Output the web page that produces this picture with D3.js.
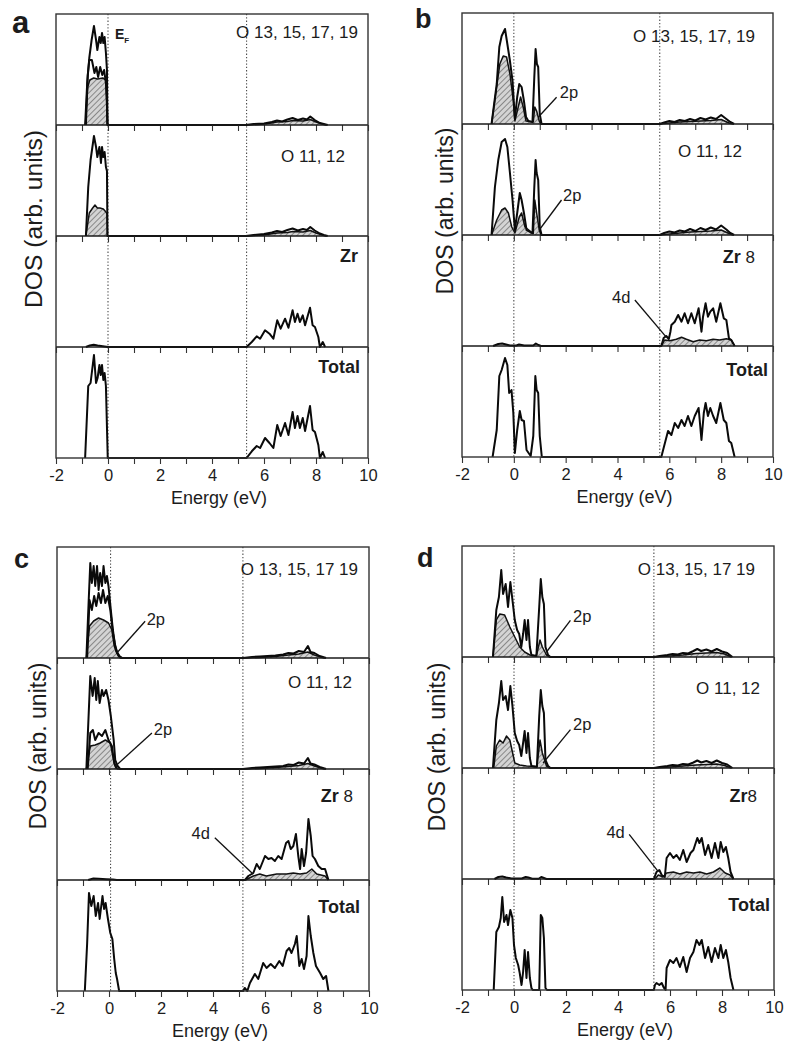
<!DOCTYPE html>
<html>
<head>
<meta charset="utf-8">
<script src="https://cdn.jsdelivr.net/npm/d3@7"></script>
<style>
  body { margin: 0; background: #fff; }
  svg { display: block; }
  text { font-family: "Liberation Sans", Arial, Helvetica, sans-serif; fill: #1c1c1c; }
</style>
</head>
<body>
<svg id="fig" width="785" height="1050"></svg>
<script>
// ---------- axis values ----------
const energyDomain = [-2, 10];
const energyTicks = [-2, -1, 0, 1, 2, 3, 4, 5, 6, 7, 8, 9, 10];
const majorTicks = [-2, 0, 2, 4, 6, 8, 10];
const tickLabels = ["-2", "0", "2", "4", "6", "8", "10"];
const dosMax = 11.1;

// ---------- panel a : DOS curves [energy (eV), DOS (arb. units)] ----------
const aO1Total = [[-0.88,0],[-0.80,4.2],[-0.72,6.7],[-0.63,8.5],[-0.54,9.9],[-0.46,8.5],[-0.41,7.5],[-0.33,8.8],[-0.28,8.2],[-0.23,9.2],[-0.18,8.2],[-0.13,8.8],[-0.08,7.2],[-0.04,5.5],[-0.02,0],
  [5.30,0],[5.6,0.1],[6.0,0.15],[6.3,0.3],[6.5,0.45],[6.7,0.35],[6.9,0.55],[7.1,0.7],[7.3,0.5],[7.5,0.65],[7.65,0.55],[7.78,0.85],[7.95,0.5],[8.15,0.2],[8.3,0.1],[8.45,0]];
const aO1Mid = [[-0.85,0],[-0.78,5.0],[-0.72,6.5],[-0.62,6.5],[-0.52,5.2],[-0.45,5.8],[-0.38,4.8],[-0.30,5.8],[-0.22,5.0],[-0.15,5.5],[-0.08,4.2],[-0.04,2.0],[-0.02,0]];
const aO1P = [[-0.87,0],[-0.78,3.8],[-0.70,4.5],[-0.55,4.7],[-0.40,4.6],[-0.20,4.7],[-0.08,4.5],[-0.04,2.0],[-0.02,0],
  [5.3,0],[5.8,0.05],[6.3,0.2],[6.5,0.3],[6.9,0.35],[7.1,0.45],[7.5,0.4],[7.78,0.55],[8.0,0.3],[8.3,0.05],[8.4,0]];
const aO2Total = [[-0.85,0],[-0.76,4.9],[-0.67,7.6],[-0.54,10.0],[-0.46,8.9],[-0.41,7.9],[-0.33,8.9],[-0.27,7.3],[-0.23,8.9],[-0.18,7.9],[-0.13,8.4],[-0.08,6.9],[-0.04,6.5],[-0.02,0],
  [5.3,0],[5.6,0.1],[6.0,0.2],[6.3,0.35],[6.5,0.5],[6.7,0.4],[6.9,0.6],[7.1,0.75],[7.3,0.55],[7.5,0.7],[7.65,0.6],[7.78,0.9],[7.95,0.55],[8.15,0.25],[8.3,0.1],[8.45,0]];
const aO2P = [[-0.85,0],[-0.72,2.3],[-0.59,2.8],[-0.50,3.1],[-0.41,2.8],[-0.31,2.8],[-0.18,2.7],[-0.08,2.4],[-0.04,2.2],[-0.02,0],
  [5.3,0],[6.0,0.1],[6.5,0.3],[6.9,0.35],[7.1,0.45],[7.5,0.4],[7.78,0.55],[8.0,0.3],[8.3,0.05],[8.4,0]];
const aZr = [[-0.85,0],[-0.7,0.15],[-0.55,0.22],[-0.4,0.15],[-0.2,0.08],[0.0,0],
  [5.33,0],[5.53,0.5],[5.72,1.07],[5.85,0.83],[6.04,1.67],[6.21,1.33],[6.36,0.83],[6.51,2.67],[6.64,1.83],[6.81,2.83],[6.94,1.93],[7.10,3.67],[7.19,2.5],[7.29,3.33],[7.38,2.5],[7.49,3.17],[7.58,2.17],[7.77,3.93],[7.87,2.17],[7.96,2.0],[8.09,1.0],[8.15,0],[8.26,0.5],[8.35,0]];
const aTotal = [[-0.88,0],[-0.76,7.2],[-0.67,7.5],[-0.54,10.3],[-0.46,7.5],[-0.40,8.0],[-0.33,9.3],[-0.28,8.3],[-0.23,9.3],[-0.18,7.8],[-0.13,8.5],[-0.08,7.2],[-0.01,0],
  [5.33,0],[5.53,0.67],[5.72,1.2],[5.85,1.0],[6.04,2.0],[6.21,1.5],[6.36,1.0],[6.51,3.3],[6.64,2.2],[6.81,3.5],[6.94,2.3],[7.10,4.6],[7.19,3.0],[7.29,4.2],[7.38,3.0],[7.49,4.0],[7.58,2.7],[7.77,5.2],[7.87,2.8],[7.96,2.6],[8.09,1.3],[8.15,0],[8.26,0.6],[8.35,0]];

// ---------- panel b ----------
const bO1Total = [[-0.86,0],[-0.66,4.0],[-0.56,7.7],[-0.47,8.8],[-0.34,9.5],[-0.25,8.0],[-0.15,6.3],[-0.05,4.3],[0.04,0.5],[0.13,2.7],[0.21,4.0],[0.30,3.7],[0.39,2.3],[0.47,0.7],[0.56,0.3],[0.72,0.2],[0.79,4.7],[0.84,7.5],[0.89,6.0],[0.94,5.7],[1.00,1.0],[1.07,0],
  [5.63,0],[5.8,0.15],[6.0,0.3],[6.2,0.2],[6.4,0.4],[6.6,0.3],[6.8,0.5],[7.0,0.35],[7.2,0.6],[7.4,0.45],[7.6,0.65],[7.8,0.5],[8.0,0.9],[8.2,0.5],[8.35,0.2],[8.5,0]];
const bO1P = [[-0.86,0],[-0.70,3.0],[-0.54,6.0],[-0.41,6.8],[-0.28,6.7],[-0.15,5.0],[-0.02,2.3],[0.04,0.3],[0.17,1.7],[0.26,2.7],[0.36,1.7],[0.47,0.3],[0.75,0.2],[0.81,1.7],[0.88,1.3],[0.98,0.3],[1.05,0],
  [5.63,0],[6.0,0.1],[6.4,0.2],[6.8,0.25],[7.2,0.3],[7.6,0.35],[8.0,0.45],[8.3,0.1],[8.45,0]];
const bO2Total = [[-0.86,0],[-0.73,4.8],[-0.60,7.5],[-0.47,9.3],[-0.34,9.6],[-0.25,8.8],[-0.15,6.2],[-0.05,3.5],[0.04,0.5],[0.13,2.2],[0.23,4.2],[0.30,3.5],[0.39,2.2],[0.49,0.5],[0.72,0.17],[0.79,4.8],[0.84,7.5],[0.88,6.2],[0.94,5.5],[1.00,0.8],[1.07,0],
  [5.63,0],[5.8,0.2],[6.0,0.35],[6.2,0.25],[6.4,0.45],[6.6,0.35],[6.8,0.6],[7.0,0.4],[7.2,0.7],[7.4,0.5],[7.6,0.75],[7.8,0.55],[8.0,0.95],[8.2,0.55],[8.35,0.2],[8.5,0]];
const bO2P = [[-0.86,0],[-0.66,1.5],[-0.47,2.5],[-0.34,2.7],[-0.21,2.2],[-0.08,0.8],[0.04,0.2],[0.21,1.8],[0.30,2.2],[0.43,0.8],[0.75,0.15],[0.81,3.5],[0.88,2.2],[0.98,0.5],[1.05,0],
  [5.63,0],[6.0,0.1],[6.4,0.2],[6.8,0.3],[7.2,0.35],[7.6,0.4],[8.0,0.5],[8.3,0.15],[8.45,0]];
const bZr = [[-0.8,0],[-0.6,0.2],[-0.45,0.25],[-0.3,0.15],[-0.15,0.05],[0.1,0.05],[0.2,0.15],[0.3,0.1],[0.4,0.05],[0.75,0.05],[0.85,0.25],[0.95,0.1],[1.05,0],
  [5.69,0],[5.78,0.8],[5.88,1.0],[5.98,0.7],[6.04,1.4],[6.08,2.1],[6.21,2.43],[6.34,3.1],[6.47,2.43],[6.59,3.27],[6.72,2.27],[6.85,3.27],[6.98,2.27],[7.13,3.77],[7.24,1.43],[7.30,2.93],[7.40,4.27],[7.49,2.93],[7.58,3.43],[7.69,3.77],[7.81,2.43],[7.97,4.27],[8.10,2.77],[8.20,2.6],[8.30,0.77],[8.39,0.6],[8.52,0]];
const bZrD = [[5.69,0],[5.82,0.6],[6.02,0.53],[6.27,0.67],[6.47,0.87],[6.66,0.67],[6.92,0.43],[7.17,0.6],[7.43,0.53],[7.69,0.67],[7.94,0.6],[8.2,0.73],[8.39,0.6],[8.52,0]];
const bTotal = [[-0.82,0],[-0.66,2.7],[-0.56,8.1],[-0.47,8.7],[-0.34,9.9],[-0.25,9.2],[-0.18,6.4],[-0.09,6.7],[-0.02,4.4],[0.04,0.4],[0.13,2.7],[0.23,4.6],[0.30,3.7],[0.39,3.6],[0.49,0.7],[0.65,0.1],[0.75,2.1],[0.83,8.1],[0.88,6.7],[0.94,6.4],[1.00,2.1],[1.08,0],
  [5.69,0],[5.76,0.7],[5.95,2.6],[6.08,2.2],[6.21,3.4],[6.34,2.9],[6.47,3.7],[6.59,3.1],[6.72,4.1],[6.85,3.1],[6.98,4.1],[7.13,4.9],[7.24,1.7],[7.33,4.4],[7.40,5.4],[7.49,4.1],[7.58,4.9],[7.69,4.1],[7.81,3.4],[7.97,5.4],[8.10,3.7],[8.20,3.4],[8.30,1.6],[8.39,1.4],[8.52,0]];

// ---------- panel c ----------
const cO1Total = [[-0.87,0],[-0.78,5.8],[-0.72,9.5],[-0.66,7.5],[-0.59,9.2],[-0.53,7.2],[-0.46,9.2],[-0.40,6.8],[-0.34,8.5],[-0.27,7.2],[-0.21,9.2],[-0.14,7.5],[-0.08,8.2],[-0.02,7.2],[0.07,4.8],[0.15,2.8],[0.22,1.5],[0.28,0.7],[0.37,0.2],[0.50,0],
  [5.15,0],[5.5,0.1],[5.8,0.15],[6.1,0.2],[6.4,0.25],[6.7,0.35],[6.9,0.5],[7.1,0.45],[7.3,0.7],[7.5,0.6],[7.65,1.2],[7.75,0.6],[7.9,0.5],[8.1,0.2],[8.35,0]];
const cO1Mid = [[-0.84,0],[-0.75,5.8],[-0.66,4.8],[-0.57,6.2],[-0.49,5.2],[-0.40,6.5],[-0.31,5.5],[-0.23,6.8],[-0.14,5.5],[-0.05,6.2],[0.05,4.8],[0.15,2.5],[0.24,1.2],[0.33,0.5],[0.43,0.1],[0.50,0]];
const cO1P = [[-0.87,0],[-0.75,3.2],[-0.59,3.7],[-0.40,4.0],[-0.21,3.8],[-0.02,3.5],[0.11,2.8],[0.20,1.2],[0.30,0.5],[0.43,0],
  [5.15,0],[5.8,0.05],[6.4,0.15],[6.9,0.3],[7.3,0.4],[7.65,0.6],[7.9,0.3],[8.2,0.05],[8.3,0]];
const cO2Total = [[-0.87,0],[-0.78,5.6],[-0.72,9.3],[-0.63,7.3],[-0.55,9.1],[-0.49,6.9],[-0.43,8.8],[-0.36,6.6],[-0.27,7.9],[-0.21,7.3],[-0.11,7.9],[-0.02,6.9],[0.07,5.3],[0.18,2.9],[0.24,0.9],[0.33,0.3],[0.43,0],
  [5.15,0],[5.5,0.1],[5.8,0.15],[6.1,0.2],[6.4,0.25],[6.7,0.3],[6.9,0.45],[7.1,0.4],[7.3,0.65],[7.5,0.55],[7.65,1.1],[7.75,0.55],[7.9,0.45],[8.1,0.2],[8.35,0]];
const cO2Mid = [[-0.82,0],[-0.72,3.6],[-0.62,3.9],[-0.53,2.9],[-0.40,3.6],[-0.27,3.3],[-0.14,3.9],[-0.02,2.9],[0.11,2.3],[0.20,0.6],[0.30,0]];
const cO2P = [[-0.87,0],[-0.72,2.3],[-0.53,2.4],[-0.34,2.6],[-0.14,2.9],[0.05,2.6],[0.15,1.3],[0.24,0.3],[0.33,0],
  [5.15,0],[5.8,0.05],[6.4,0.15],[6.9,0.25],[7.3,0.35],[7.65,0.55],[7.9,0.3],[8.2,0.05],[8.3,0]];
const cZr = [[-0.8,0],[-0.6,0.15],[-0.4,0.12],[-0.1,0.08],[0.15,0.05],[0.3,0],
  [5.23,0],[5.36,0.4],[5.55,0.7],[5.68,1.6],[5.80,1.1],[6.00,2.4],[6.13,2.1],[6.25,2.2],[6.38,1.9],[6.51,2.4],[6.64,2.1],[6.81,3.7],[6.90,3.9],[6.99,3.1],[7.09,3.4],[7.19,4.6],[7.28,2.4],[7.35,1.1],[7.41,3.1],[7.50,1.4],[7.58,2.7],[7.67,6.1],[7.76,4.4],[7.83,2.4],[7.92,2.1],[8.05,1.4],[8.18,1.1],[8.31,1.1],[8.44,0]];
const cZrD = [[5.25,0],[5.55,0.4],[5.80,0.6],[6.05,0.4],[6.45,0.6],[6.83,0.6],[7.09,0.7],[7.35,0.6],[7.60,0.7],[7.80,1.1],[7.99,0.6],[8.31,0.4],[8.44,0]];
const cTotal = [[-0.93,0],[-0.84,4.8],[-0.77,9.8],[-0.68,8.5],[-0.59,9.5],[-0.51,7.5],[-0.42,8.8],[-0.36,7.2],[-0.25,9.5],[-0.19,8.2],[-0.13,8.8],[-0.04,7.2],[0.05,5.8],[0.13,5.2],[0.20,3.2],[0.26,1.8],[0.31,1.2],[0.39,0],
  [5.16,0],[5.22,0.3],[5.32,0],[5.42,0.8],[5.61,1.7],[5.74,1.2],[5.93,2.8],[6.06,2.3],[6.22,2.7],[6.38,2.3],[6.55,3.0],[6.68,2.5],[6.83,4.0],[6.93,4.3],[7.02,3.8],[7.15,4.7],[7.22,5.5],[7.32,2.5],[7.41,3.2],[7.50,2.2],[7.60,3.5],[7.67,7.5],[7.76,5.5],[7.86,3.8],[7.96,2.5],[8.12,1.8],[8.24,1.2],[8.35,1.5],[8.44,0]];

// ---------- panel d ----------
const dO1Total = [[-0.81,0],[-0.68,4.7],[-0.58,6.0],[-0.49,8.7],[-0.42,6.3],[-0.32,7.3],[-0.23,5.0],[-0.14,7.5],[-0.06,5.7],[0.03,3.7],[0.12,2.7],[0.20,2.3],[0.28,1.0],[0.35,2.3],[0.41,3.7],[0.48,1.7],[0.54,3.7],[0.61,1.0],[0.67,0.2],[0.86,0.1],[0.97,5.0],[1.03,7.8],[1.09,6.0],[1.15,5.3],[1.21,1.0],[1.31,0.2],[1.40,0],
  [5.38,0],[5.6,0.1],[5.9,0.2],[6.1,0.3],[6.3,0.25],[6.5,0.4],[6.7,0.35],[6.9,0.6],[7.05,0.8],[7.2,0.6],[7.4,0.75],[7.6,0.55],[7.8,0.8],[8.0,0.55],[8.2,0.4],[8.4,0]];
const dO1P = [[-0.81,0],[-0.68,3.7],[-0.55,4.3],[-0.36,4.2],[-0.16,3.0],[0.03,2.0],[0.22,1.0],[0.41,0.5],[0.61,0.2],[0.86,0.1],[1.00,1.7],[1.09,1.0],[1.25,0.2],[1.37,0],
  [5.38,0],[6.0,0.1],[6.5,0.2],[7.0,0.35],[7.4,0.4],[7.8,0.45],[8.1,0.3],[8.35,0]];
const dO2Total = [[-0.81,0],[-0.68,4.8],[-0.58,6.5],[-0.49,8.7],[-0.42,6.8],[-0.32,7.2],[-0.23,5.8],[-0.14,8.2],[-0.06,6.2],[0.03,3.5],[0.12,2.7],[0.20,2.3],[0.28,1.2],[0.35,2.5],[0.41,3.7],[0.48,1.5],[0.54,3.5],[0.61,1.0],[0.67,0.2],[0.88,0.1],[0.97,5.2],[1.03,7.8],[1.09,6.2],[1.15,5.5],[1.21,0.8],[1.31,0.2],[1.40,0],
  [5.38,0],[5.6,0.1],[5.9,0.2],[6.1,0.3],[6.3,0.25],[6.5,0.4],[6.7,0.35],[6.9,0.55],[7.05,0.75],[7.2,0.55],[7.4,0.7],[7.6,0.5],[7.8,0.75],[8.0,0.5],[8.2,0.35],[8.4,0]];
const dO2P = [[-0.78,0],[-0.68,2.2],[-0.55,2.8],[-0.42,2.5],[-0.29,3.2],[-0.16,2.8],[0.03,0.5],[0.22,0.3],[0.48,0.2],[0.88,0.15],[1.00,2.8],[1.09,1.5],[1.25,0.2],[1.37,0],
  [5.38,0],[6.0,0.1],[6.5,0.2],[7.0,0.3],[7.4,0.35],[7.8,0.4],[8.1,0.25],[8.35,0]];
const dZr = [[-0.75,0],[-0.6,0.2],[-0.45,0.25],[-0.3,0.15],[-0.1,0.05],[0.3,0.05],[0.45,0.2],[0.55,0.15],[0.7,0.02],[0.95,0.02],[1.05,0.2],[1.15,0.1],[1.25,0],
  [5.38,0],[5.48,0.7],[5.59,0.9],[5.68,0.4],[5.80,0.2],[5.87,2.1],[6.00,2.6],[6.13,2.1],[6.25,2.4],[6.38,1.9],[6.51,2.9],[6.64,1.7],[6.79,2.6],[6.90,2.9],[7.05,4.1],[7.13,3.6],[7.22,4.1],[7.35,2.4],[7.47,3.4],[7.60,2.1],[7.73,3.6],[7.86,2.1],[7.95,3.7],[8.05,2.7],[8.15,3.2],[8.24,2.1],[8.33,0.7],[8.44,0]];
const dZrD = [[5.42,0],[5.55,0.4],[5.73,0.2],[5.87,0.6],[6.13,0.7],[6.38,0.5],[6.64,0.7],[6.90,0.6],[7.15,0.7],[7.41,0.5],[7.67,0.7],[7.92,1.1],[8.12,0.6],[8.31,0.4],[8.44,0]];
const dTotal = [[-0.78,0],[-0.68,5.8],[-0.58,6.3],[-0.51,7.2],[-0.45,9.3],[-0.38,6.8],[-0.29,7.5],[-0.23,6.5],[-0.14,8.0],[-0.06,7.2],[0.00,4.5],[0.07,3.2],[0.16,2.5],[0.22,1.7],[0.29,0.5],[0.35,1.8],[0.41,4.0],[0.48,1.2],[0.54,3.8],[0.61,1.2],[0.67,0.2],[0.72,0],[0.97,0],[1.03,7.5],[1.09,7.2],[1.15,5.2],[1.21,0.2],[1.27,0],
  [5.38,0],[5.42,0.5],[5.48,0.7],[5.59,0.5],[5.68,0.7],[5.77,0.2],[5.83,0],[5.87,2.2],[6.00,3.0],[6.13,2.7],[6.25,3.2],[6.38,2.3],[6.51,3.3],[6.64,1.8],[6.77,3.2],[6.90,3.8],[7.02,5.0],[7.13,4.5],[7.22,5.0],[7.35,3.2],[7.47,4.3],[7.60,2.8],[7.73,4.2],[7.86,3.2],[7.95,4.5],[8.05,3.2],[8.15,4.0],[8.24,2.8],[8.33,1.2],[8.44,0]];

// Fermi level and conduction-band edge marked with dotted lines (eV)
const aMarkers = [0, 5.33];
const bMarkers = [0, 5.63];
const cMarkers = [0.06, 5.15];
const dMarkers = [0, 5.38];

// ---------- layout ----------
const subH = 111;
const panels = [
  { letter: "a", frame: { x0: 56, x1: 368, top: 14 }, letterPos: [12, 33, 31], ylab: [42, 219, 178], markers: aMarkers,
    subs: [
      { lines: [aO1Total, aO1Mid], fills: [aO1P], label: [["O 13, 15, 17, 19", 0]], inset: 10, dy: 24 },
      { lines: [aO2Total], fills: [aO2P], label: [["O 11, 12", 0]], inset: 23, dy: 37 },
      { lines: [aZr], fills: [], label: [["Zr", 1]], inset: 10, dy: 26 },
      { lines: [aTotal], fills: [], label: [["Total", 1]], inset: 8, dy: 26 } ],
    notes: [] },
  { letter: "b", frame: { x0: 462, x1: 773, top: 13 }, letterPos: [415, 28, 27], ylab: [453, 211, 167], markers: bMarkers,
    subs: [
      { lines: [bO1Total], fills: [bO1P], label: [["O 13, 15, 17, 19", 0]], inset: 18, dy: 29 },
      { lines: [bO2Total], fills: [bO2P], label: [["O 11, 12", 0]], inset: 31, dy: 33 },
      { lines: [bZr], fills: [bZrD], label: [["Zr", 1], [" 8", 0]], inset: 18, dy: 28 },
      { lines: [bTotal], fills: [], label: [["Total", 1]], inset: 5, dy: 30 } ],
    notes: [
      { sub: 0, text: "2p", tip: [0.94, 0.67], from: [1.65, 2.67], at: [1.77, 2.6], anchor: "start" },
      { sub: 1, text: "2p", tip: [0.98, 0.5], from: [1.84, 3.5], at: [1.9, 3.4], anchor: "start" },
      { sub: 2, text: "4d", tip: [5.89, 0.87], from: [4.67, 4.6], at: [4.5, 4.3], anchor: "end" } ] },
  { letter: "c", frame: { x0: 57, x1: 369, top: 547 }, letterPos: [14, 568, 27], ylab: [46, 746, 167], markers: cMarkers,
    subs: [
      { lines: [cO1Total, cO1Mid], fills: [cO1P], label: [["O 13, 15, 17 19", 0]], inset: 11, dy: 28 },
      { lines: [cO2Total, cO2Mid], fills: [cO2P], label: [["O 11, 12", 0]], inset: 17, dy: 30 },
      { lines: [cZr], fills: [cZrD], label: [["Zr", 1], [" 8", 0]], inset: 16, dy: 33 },
      { lines: [cTotal], fills: [], label: [["Total", 1]], inset: 9, dy: 33 } ],
    notes: [
      { sub: 0, text: "2p", tip: [0.3, 0.5], from: [1.39, 3.67], at: [1.45, 3.33], anchor: "start" },
      { sub: 1, text: "2p", tip: [0.24, 0.27], from: [1.65, 3.6], at: [1.72, 3.4], anchor: "start" },
      { sub: 2, text: "4d", tip: [5.55, 0.57], from: [4.07, 4.23], at: [3.88, 4.07], anchor: "end" } ] },
  { letter: "d", frame: { x0: 462, x1: 774, top: 546 }, letterPos: [417, 567, 27], ylab: [445, 747, 169], markers: dMarkers,
    subs: [
      { lines: [dO1Total], fills: [dO1P], label: [["O 13, 15, 17 19", 0]], inset: 19, dy: 29 },
      { lines: [dO2Total], fills: [dO2P], label: [["O 11, 12", 0]], inset: 14, dy: 37 },
      { lines: [dZr], fills: [dZrD], label: [["Zr", 1], ["8", 0]], inset: 17, dy: 34 },
      { lines: [dTotal], fills: [], label: [["Total", 1]], inset: 4, dy: 32 } ],
    notes: [
      { sub: 0, text: "2p", tip: [1.25, 0.5], from: [2.17, 3.67], at: [2.27, 3.5], anchor: "start" },
      { sub: 1, text: "2p", tip: [1.12, 0.5], from: [2.17, 3.83], at: [2.27, 3.8], anchor: "start" },
      { sub: 2, text: "4d", tip: [5.55, 0.73], from: [4.43, 4.47], at: [4.26, 4.07], anchor: "end" } ] }
];

// ---------- drawing ----------
const svg = d3.select("#fig");
const defs = svg.append("defs");
const hatch = defs.append("pattern")
  .attr("id", "hatch").attr("patternUnits", "userSpaceOnUse")
  .attr("width", 4).attr("height", 4).attr("patternTransform", "rotate(45)");
hatch.append("rect").attr("width", 4).attr("height", 4).attr("fill", "#d4d4d4");
hatch.append("line").attr("x1", 0).attr("y1", 0).attr("x2", 0).attr("y2", 4)
  .attr("stroke", "#5e5e5e").attr("stroke-width", 1.3);

const tickFmt = d => { const k = majorTicks.indexOf(d); return k >= 0 ? tickLabels[k] : ""; };

panels.forEach(p => {
  const f = p.frame;
  const x = d3.scaleLinear().domain(energyDomain).range([f.x0, f.x1]);
  const bottom = f.top + 4 * subH;
  const g = svg.append("g");

  // dotted reference lines
  p.markers.forEach(e => {
    g.append("line").attr("x1", x(e)).attr("x2", x(e)).attr("y1", f.top).attr("y2", bottom)
      .attr("stroke", "#4a4a4a").attr("stroke-width", 1.1).attr("stroke-dasharray", "1.3,2");
  });

  p.subs.forEach((s, i) => {
    const y0 = f.top + i * subH;
    const y = d3.scaleLinear().domain([0, dosMax]).range([y0 + subH, y0]);
    const area = d3.area().x(d => x(d[0])).y0(y(0)).y1(d => y(d[1]));
    const line = d3.line().x(d => x(d[0])).y(d => y(d[1]));

    s.fills.forEach(arr => {
      g.append("path").datum(arr).attr("d", area).attr("fill", "url(#hatch)");
      g.append("path").datum(arr).attr("d", line).attr("fill", "none")
        .attr("stroke", "#111").attr("stroke-width", 1.5).attr("stroke-linejoin", "round");
    });
    s.lines.forEach(arr => {
      g.append("path").datum(arr).attr("d", line).attr("fill", "none")
        .attr("stroke", "#0a0a0a").attr("stroke-width", 2).attr("stroke-linejoin", "round");
    });

    // axis ticks on the bottom edge of every strip
    const axis = d3.axisBottom(x).tickValues(energyTicks).tickSize(6).tickPadding(5)
      .tickFormat(i === 3 ? tickFmt : () => "");
    const ag = g.append("g").attr("transform", `translate(0,${y0 + subH})`).call(axis);
    ag.attr("font-size", null).attr("font-family", null);
    ag.select(".domain").remove();
    ag.selectAll(".tick line").attr("stroke", "#333").attr("stroke-width", 1.1);
    ag.selectAll(".tick text").attr("fill", "#1c1c1c").style("font-size", "16.5px");

    // strip separator
    if (i < 3) {
      g.append("line").attr("x1", f.x0).attr("x2", f.x1).attr("y1", y0 + subH).attr("y2", y0 + subH)
        .attr("stroke", "#1a1a1a").attr("stroke-width", 1.6);
    }

    // strip label
    const t = g.append("text").attr("x", f.x1 - s.inset).attr("y", y0 + s.dy).attr("text-anchor", "end");
    s.label.forEach(([txt, bold]) => {
      t.append("tspan").text(txt)
        .style("font-size", bold ? "18px" : "17px")
        .style("font-weight", bold ? "bold" : "normal");
    });

    // annotations with leader lines
    p.notes.filter(n => n.sub === i).forEach(n => {
      g.append("line").attr("x1", x(n.from[0])).attr("y1", y(n.from[1]))
        .attr("x2", x(n.tip[0])).attr("y2", y(n.tip[1]))
        .attr("stroke", "#111").attr("stroke-width", 1.3);
      g.append("text").attr("x", x(n.at[0])).attr("y", y(n.at[1]))
        .attr("text-anchor", n.anchor).style("font-size", "16.5px").text(n.text);
    });
  });

  // frame
  g.append("rect").attr("x", f.x0).attr("y", f.top).attr("width", f.x1 - f.x0).attr("height", 4 * subH)
    .attr("fill", "none").attr("stroke", "#333").attr("stroke-width", 1.4);

  // panel letter
  g.append("text").attr("x", p.letterPos[0]).attr("y", p.letterPos[1])
    .style("font-size", p.letterPos[2] + "px").style("font-weight", "bold").text(p.letter);

  // axis titles
  g.append("text").attr("x", (f.x0 + f.x1) / 2 + 7).attr("y", bottom + 46)
    .attr("text-anchor", "middle").style("font-size", "18px").text("Energy (eV)");
  g.append("text")
    .attr("transform", `translate(${p.ylab[0]},${p.ylab[1]}) rotate(-90)`)
    .attr("text-anchor", "middle").style("font-size", "23px")
    .attr("textLength", p.ylab[2]).attr("lengthAdjust", "spacingAndGlyphs")
    .text("DOS (arb. units)");

  // Fermi level label on the first panel
  if (p.letter === "a") {
    const ef = g.append("text").attr("x", x(0) + 7).attr("y", f.top + 25).style("font-weight", "bold");
    ef.append("tspan").style("font-size", "14px").text("E");
    ef.append("tspan").style("font-size", "8px").attr("dy", 4).text("F");
  }
});
</script>
</body>
</html>
